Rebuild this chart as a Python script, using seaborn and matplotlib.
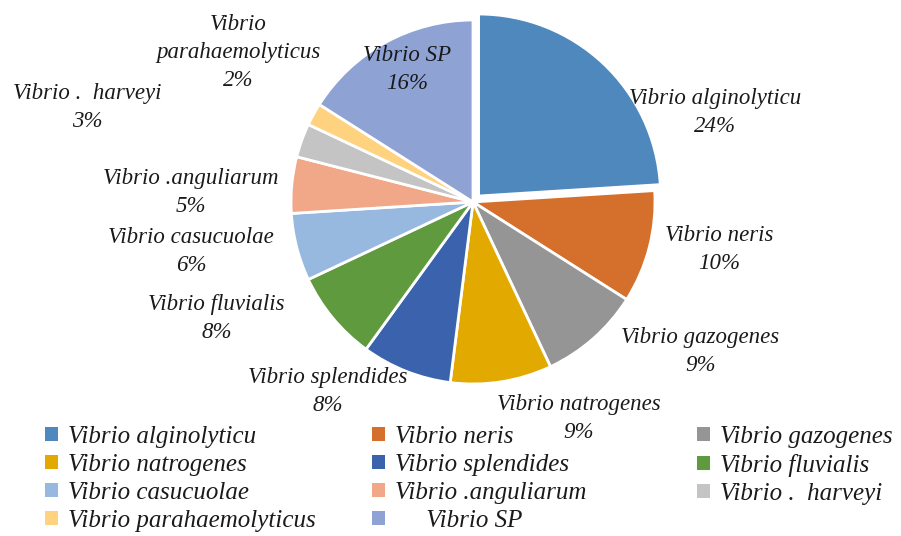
import matplotlib
matplotlib.use("Agg")
import matplotlib.pyplot as plt
import seaborn as sns
from matplotlib.patches import Patch

species = ["Vibrio alginolyticu", "Vibrio neris", "Vibrio gazogenes", "Vibrio natrogenes",
           "Vibrio splendides", "Vibrio fluvialis", "Vibrio casucuolae", "Vibrio .anguliarum",
           "Vibrio .  harveyi", "Vibrio parahaemolyticus", "Vibrio SP"]
legend_names = species[:-1] + ["     Vibrio SP"]
pie_names = species[:9] + ["Vibrio\nparahaemolyticus", "Vibrio SP"]
percent = [24, 10, 9, 9, 8, 8, 6, 5, 3, 2, 16]
colors = ["#4E88BD", "#D4702B", "#959595", "#E2AA00", "#3B63AD", "#5F9A3E",
          "#97B9E0", "#F0A889", "#C4C4C4", "#FFD27F", "#8FA2D4"]

# label positions in pie units (radius = 1)
label_pos = [(1.33, 0.49), (1.35, -0.26), (1.25, -0.82), (0.58, -1.19), (-0.80, -1.04),
             (-1.41, -0.64), (-1.55, -0.27), (-1.55, 0.05), (-2.12, 0.52), (-1.29, 0.82),
             (-0.36, 0.73)]

sns.set_theme(style="white")
plt.rcParams['font.family'] = ['Liberation Serif', 'DejaVu Serif']

fig = plt.figure(figsize=(9.01, 5.36), dpi=100)
ax = fig.add_axes([0, 0, 1, 1])
ax.axis("off")

explode = [0.045] + [0] * 10
wedges, _ = ax.pie(percent, colors=colors, startangle=90, counterclock=False,
                   explode=explode, wedgeprops=dict(edgecolor="white", linewidth=2))

for name, p, (x, y) in zip(pie_names, percent, label_pos):
    ax.text(x, y, f"{name}\n{p}%", ha="center", va="center", fontsize=16.5,
            style="italic", color="#1a1a1a", linespacing=1.45)

# map pie units to pixels: center (473, 202), radius 182 px
ax.set_aspect("auto")
ax.set_xlim(-473 / 182, (901 - 473) / 182)
ax.set_ylim(-(536 - 202) / 182, 202 / 182)

# Excel-style legend: three equal columns, filled row by row
handles = [Patch(facecolor=c, edgecolor="none") for c in colors]
col_x = [0.050, 0.413, 0.774]
for col in range(3):
    idx = list(range(col, len(species), 3))
    fig.legend([handles[i] for i in idx], [legend_names[i] for i in idx],
               loc="upper left", bbox_to_anchor=(col_x[col], 0.205), ncol=1, frameon=False,
               prop=dict(family="Liberation Serif", style="italic", size=18),
               handlelength=0.5, handleheight=0.5, handletextpad=0.4,
               labelspacing=0.24, borderaxespad=0, borderpad=0, labelcolor="#1a1a1a")

fig.savefig("out.png", dpi=100)
plt.close(fig)
